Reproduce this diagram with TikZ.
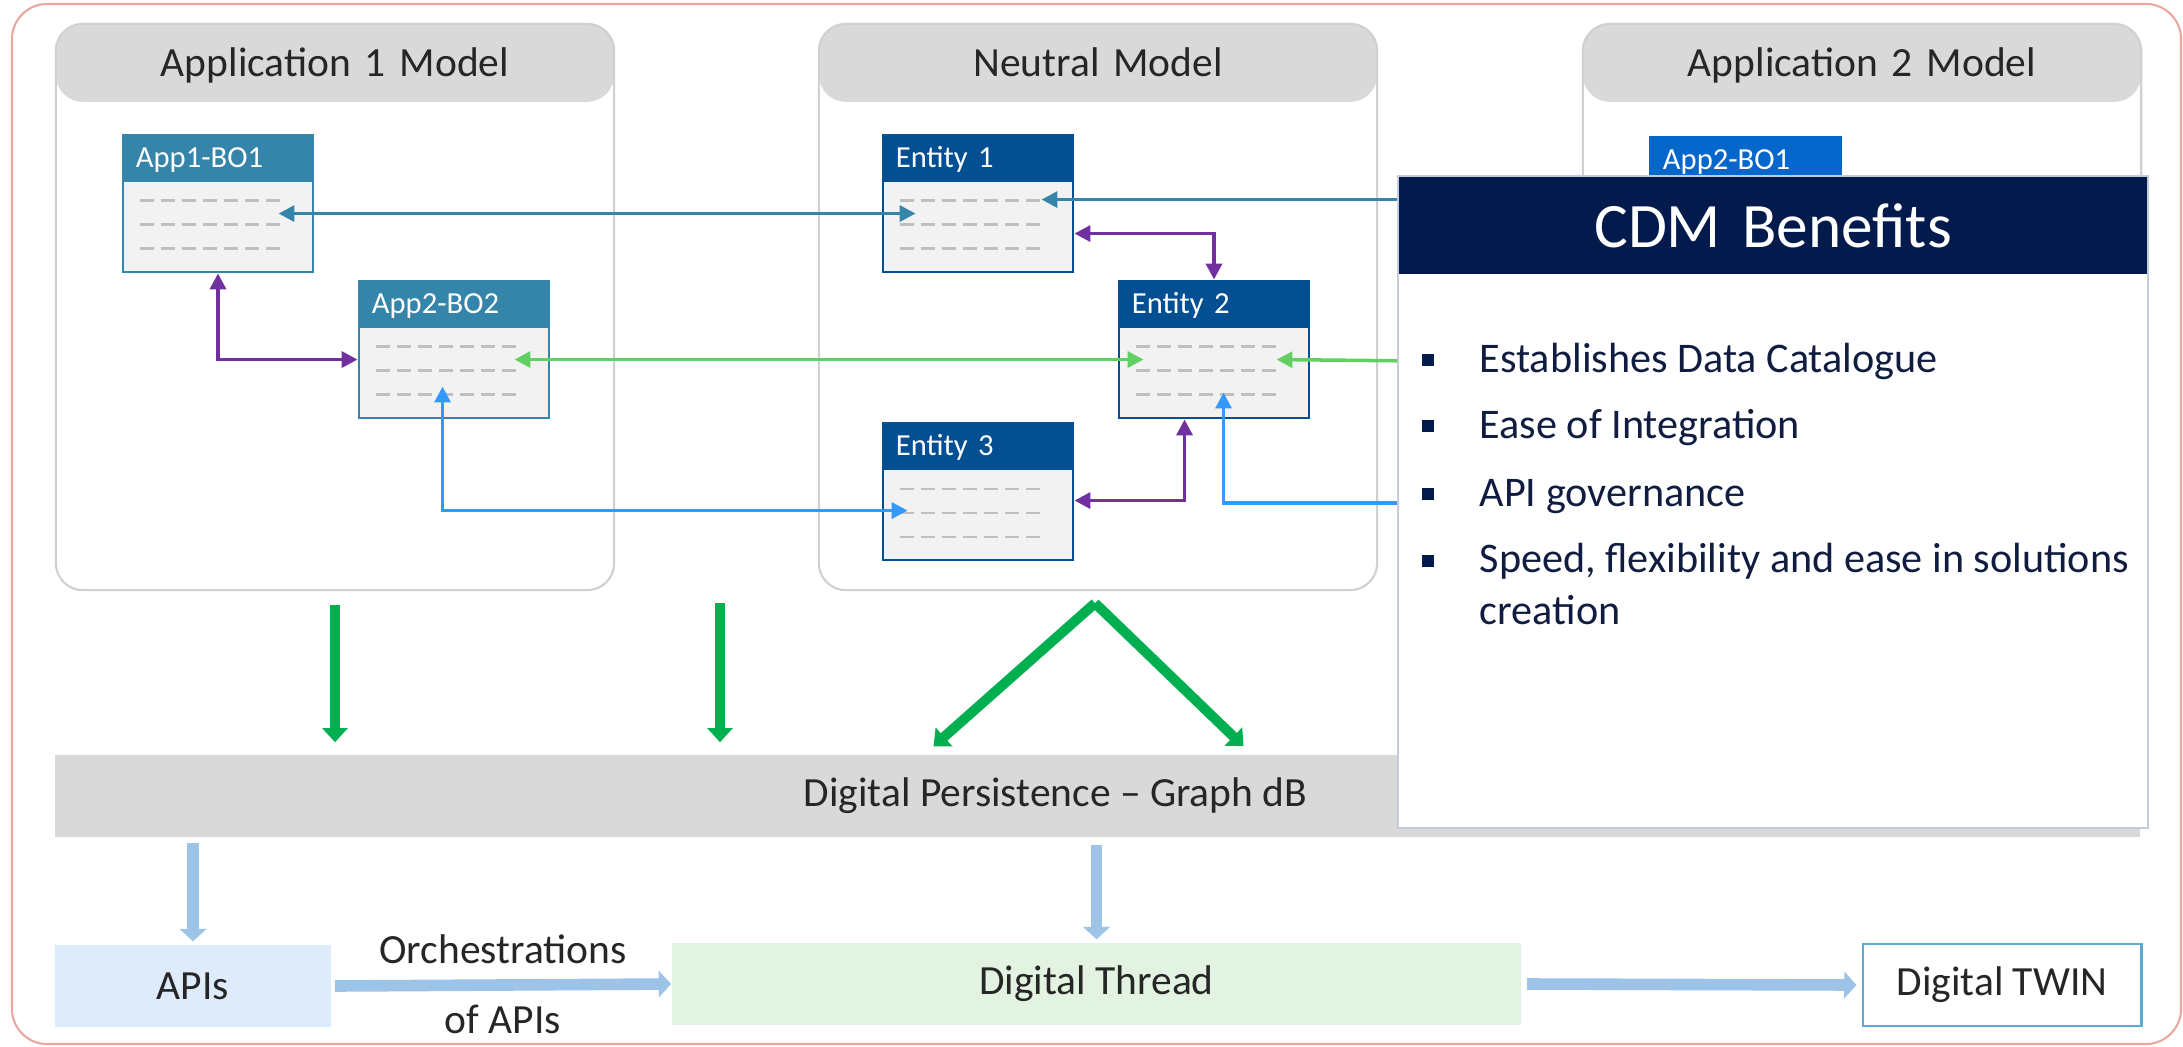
\documentclass[tikz,border=0pt]{standalone}
\usepackage{fontspec}
\setmainfont{Carlito}
\usetikzlibrary{arrows.meta, calc, positioning}

\definecolor{framepink}{HTML}{E8A7A0}
\definecolor{panelline}{HTML}{D0D0D0}
\definecolor{headgray}{HTML}{D9D9D9}
\definecolor{titlegray}{HTML}{262626}
\definecolor{appteal}{HTML}{3585AB}
\definecolor{entblue}{HTML}{034F92}
\definecolor{app2blue}{HTML}{0566CC}
\definecolor{bodygray}{HTML}{F2F2F2}
\definecolor{dashgray}{HTML}{BFBFBF}
\definecolor{linkpurple}{HTML}{7030A0}
\definecolor{linkgreen}{HTML}{62CF62}
\definecolor{linkblue}{HTML}{3399FF}
\definecolor{flowgreen}{HTML}{00B050}
\definecolor{cdmnavy}{HTML}{031B4C}
\definecolor{cdmline}{HTML}{C6CBDA}
\definecolor{bullettext}{HTML}{101D40}
\definecolor{pipeblue}{HTML}{9DC3E6}
\definecolor{apifill}{HTML}{DEEBFB}
\definecolor{threadfill}{HTML}{E2F4E1}
\definecolor{twinline}{HTML}{5AAAD2}

\begin{document}
\begin{tikzpicture}[x=0.01cm, y=-0.01cm, font=\fontsize{11.8}{14}\selectfont]
    \tikzstyle{frame} = [draw=framepink, line width=0.6pt, rounded corners=0.35cm];
    \tikzstyle{panel} = [draw=panelline, fill=white, line width=0.6pt, rounded corners=0.27cm, text width=5.38cm, align=center, inner sep=0.1cm, text height=0.43cm, text depth=5.03cm, text=titlegray, path picture={\fill[headgray] (path picture bounding box.north west) rectangle ([yshift=-0.78cm]path picture bounding box.north east);}];
    \tikzset{bobox/.style={draw=#1, fill=bodygray, line width=0.8pt, text width=1.64cm, align=left, inner xsep=0.13cm, inner ysep=0.08cm, text height=0.25cm, text depth=0.96cm, text=white, font=\fontsize{8.7}{10}\selectfont, path picture={\fill[#1] (path picture bounding box.north west) rectangle ([yshift=-0.47cm]path picture bounding box.north east);}}}
    \tikzstyle{dashline} = [draw=dashgray, line width=0.6pt, dash pattern=on 4pt off 2pt];
    \tikzstyle{link} = [line width=1pt, <->, >={Triangle[length=4.5pt, width=4.5pt]}];
    \tikzstyle{flow} = [draw=flowgreen, line width=2.85pt, ->, >={Triangle[length=4pt, width=7pt]}];
    \tikzstyle{pipe} = [draw=pipeblue, line width=3.3pt, ->, >={Triangle[length=3.5pt, width=7.5pt]}];
    \tikzstyle{cdmbox} = [draw=cdmline, fill=white, line width=0.5pt, text width=7.3cm, align=center, inner sep=0.1cm, text height=0.62cm, text depth=5.7cm, text=white, font=\fontsize{18}{21}\selectfont, path picture={\fill[cdmnavy] (path picture bounding box.north west) rectangle ([yshift=-0.98cm]path picture bounding box.north east);}];
    \tikzstyle{benefit} = [anchor=base west, inner sep=0pt, align=left, text=bullettext, font=\fontsize{12}{14.6}\selectfont];
    \tikzstyle{lowbox} = [minimum height=0.82cm, inner sep=0pt, text=titlegray];

    \useasboundingbox (0,0) rectangle (2183,1046);
    \draw[frame] (12,4) rectangle (2181,1044);

    % the three models
    \node[panel] (app1) at (335,307) {Application 1 Model};
    \node[panel] (neutral) at (1098,307) {Neutral Model};
    \node[panel] (app2) at (1862,307) {Application 2 Model};

    % business objects and entities
    \foreach \n/\x/\y/\c/\t in {bo1/218/203.5/appteal/App1-BO1, bo2/454/349.5/appteal/App2-BO2,
        e1/978/203.5/entblue/Entity 1, e2/1214/349.5/entblue/Entity 2, e3/978/491.5/entblue/Entity 3,
        ab1/1745/205.5/app2blue/App2-BO1}
        \node[bobox=\c] (\n) at (\x,\y) {\t};
    \foreach \n in {bo1,bo2,e1,e2,e3,ab1}
        \foreach \dy in {67,91,115}
            \draw[dashline] ($(\n.north west)+(18,\dy)$) -- ++(147,0);

    \coordinate (cdmg) at (1420,361);
    \coordinate (cdmb) at (1420,503);
    \draw[link, appteal] ($(bo1.north west)+(157,80)$) -- ($(e1.north west)+(34,80)$);
    \draw[link, appteal] ($(ab1.north west)+(30,64)$) -- ($(e1.north west)+(160,66)$);
    \draw[link, linkpurple] (bo1.south) |- ($(bo2.north west)+(0,80)$);
    \draw[link, linkgreen] ($(bo2.north west)+(157,80)$) -- ($(e2.north west)+(26,80)$);
    \draw[link, linkgreen, ->] (cdmg) -- ($(e2.north west)+(159,80)$);
    \draw[link, linkblue] ($(bo2.north west)+(85,107)$) |- ($(e3.north west)+(26,89)$);
    \draw[link, linkpurple] ($(e1.north east)+(0,100)$) -| (e2.north);
    \draw[link, linkpurple] ($(e3.north east)+(0,79)$) -| ($(e2.south west)+(67,0)$);
    \draw[link, linkblue, ->] (cdmb) -| ($(e2.north west)+(106,113)$);

    % persistence layer
    \node[lowbox, fill=headgray, minimum width=20.83cm, label={[xshift=-0.42cm, text=titlegray]center:Digital Persistence -- Graph dB}] (dp) at (1097.5,796) {};
    \coordinate (gap1) at (720,603);
    \draw[flow] ($(app1.south)+(0,14)$) -- ($(app1.south |- dp.north)+(0,-12)$);
    \draw[flow] (gap1) -- ($(gap1 |- dp.north)+(0,-12)$);
    \draw[flow] ($(neutral.south)+(-3,12)$) -- ($(dp.north)+(-164,-8)$);
    \draw[flow] ($(neutral.south)+(-3,12)$) -- ($(dp.north)+(146,-8)$);

    % benefits
    \node[cdmbox] (cdm) at (1773,502) {CDM Benefits};
    \foreach \t/\y [count=\i] in {{Establishes Data Catalogue}/372, {Ease of Integration}/438, {API governance}/506} {
        \node[benefit] (b\i) at (1479,\y) {\t};
        \fill[cdmnavy] ($(b\i.base west)+(-57,-18)$) rectangle ++(12,12);
    }
    \node[benefit] (b4) at (1479,624) {Speed, flexibility and ease in solutions\\creation};
    \fill[cdmnavy] ($(b4.base west)+(-57,-69)$) rectangle ++(12,12);

    % consumers
    \node[lowbox, fill=apifill, minimum width=2.76cm] (apis) at (193,986) {APIs};
    \node[lowbox, fill=threadfill, minimum width=8.49cm] (thread) at (1096.5,984) {Digital Thread};
    \node[lowbox, draw=twinline, line width=0.8pt, fill=white, minimum width=2.78cm] (twin) at (2002,985) {Digital TWIN};
    \draw[pipe] ($(apis.north |- dp.south)+(0,5)$) -- ($(apis.north)+(0,-3)$);
    \draw[pipe] ($(thread.north |- dp.south)+(0,7)$) -- ($(thread.north)+(0,-3)$);
    \draw[pipe] ($(apis.east)+(3,0)$) -- (thread.west)
        node[midway, above=0.04cm, text=titlegray] {Orchestrations}
        node[midway, below=0.03cm, text=titlegray] {of APIs};
    \draw[pipe] ($(thread.east)+(5,0)$) -- ($(twin.west)+(-5,0)$);
\end{tikzpicture}
\end{document}
